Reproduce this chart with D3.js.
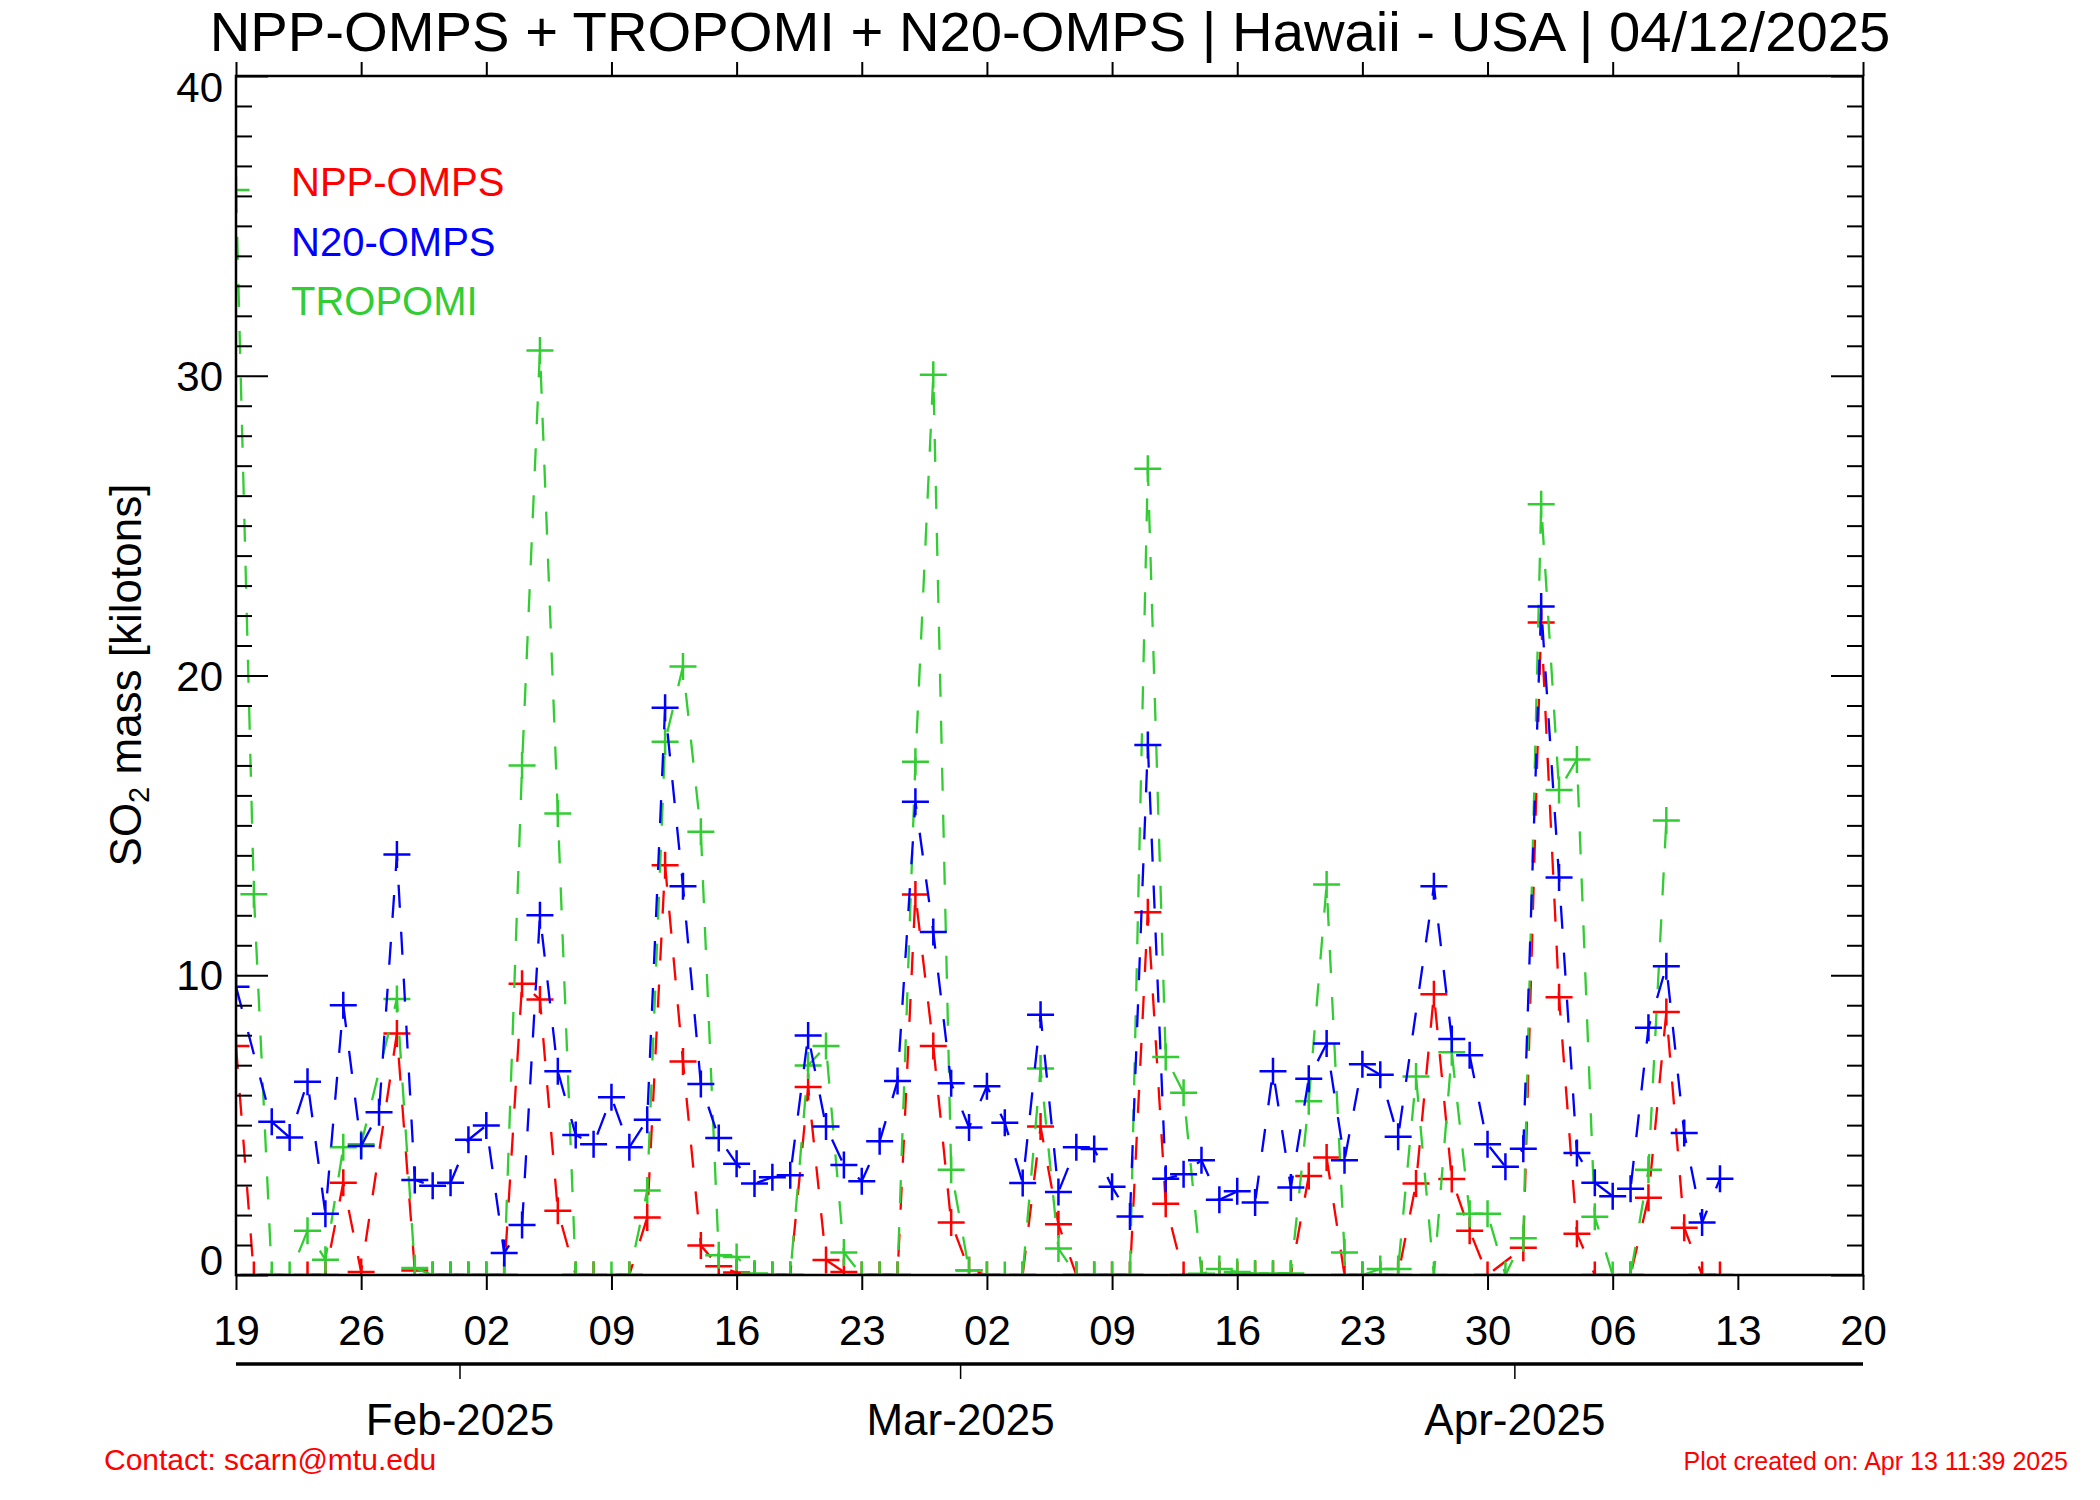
<!DOCTYPE html>
<html><head><meta charset="utf-8">
<script src="https://cdn.jsdelivr.net/npm/d3@7"></script>
<style>
body{margin:0;background:#fff}
text{font-family:"Liberation Sans",Arial,Helvetica,sans-serif}
</style>
</head><body>
<svg id="chart" width="2100" height="1500"></svg>
<script>
// ---------------- data ----------------
const firstDay = [2025, 0, 19];           // Jan 19 2025, one value per day after that
const titleText = "NPP-OMPS + TROPOMI + N20-OMPS | Hawaii - USA | 04/12/2025";
const yLabel = "SO", yLabelSub = "2", yLabelRest = " mass [kilotons]";
const weekTickLabels = ["19","26","02","09","16","23","02","09","16","23","30","06","13","20"];
const monthTickLabels = ["Feb-2025","Mar-2025","Apr-2025"];
const yTickValues = [0,10,20,30,40];
const seriesNames = ["NPP-OMPS","N20-OMPS","TROPOMI"];

const nppOmps = [7.64,0,null,null,0,0,3.08,0.1,null,8.06,
  0.15,0,0,0,0,0,9.72,9.19,2.14,0,
  0,null,0,1.92,13.67,7.12,0.98,0.29,0.08,0,
  0,0,6.27,0.5,0.1,0,0,0,12.69,7.64,
  1.75,0.16,0,null,0,4.95,1.69,0,0,0,
  0,12.1,2.38,0,0,0,0,0,0,0,
  3.30,3.92,0,0,0,0,3.05,9.37,3.20,1.48,
  0,null,0.91,21.77,9.27,1.38,0,null,0,2.58,
  8.77,1.58,0,0];

const n20Omps = [9.62,null,5.11,4.59,6.45,2.04,9.0,4.30,5.43,14.03,
  3.17,2.98,3.08,4.51,4.99,0.73,1.67,12.0,6.8,4.67,
  4.36,5.93,4.26,5.18,18.92,12.97,6.37,4.57,3.71,3.05,
  3.26,3.33,7.99,4.95,3.67,3.13,4.46,6.47,15.79,11.44,
  6.40,4.92,6.30,5.08,3.07,8.68,2.77,4.26,4.20,2.94,
  1.95,17.68,3.21,3.36,3.83,2.51,2.79,2.42,6.80,2.92,
  6.55,7.72,3.83,7.03,6.68,4.61,null,12.97,7.87,7.33,
  4.36,3.61,4.21,22.3,13.26,4.07,3.08,2.63,2.88,8.25,
  10.3,4.74,1.75,3.21];

const tropomi = [36.2,12.7,0,0,1.48,0.51,4.26,4.36,null,9.21,
  0.23,0,0,0,0,0,17.0,30.84,15.4,0,
  0,0,0,2.82,17.79,20.3,14.79,0.66,0.6,0.05,
  0,0,6.99,7.64,0.75,0,0,0,17.12,30.03,
  3.51,0.16,0,0,0,6.89,0.88,0,0,0,
  0,26.9,7.27,6.08,0.04,0.2,0.1,0.05,0.05,0.05,
  5.80,13.03,0.75,0,0.2,0.2,6.62,0,7.43,2.04,
  2.04,0,1.23,25.71,16.18,17.2,1.94,0,0,3.51,
  15.16];

// ---------------- layout ----------------
const W = 2100, H = 1500;
const L = 236, R = 1863, T = 76, B = 1275;
const colors = {npp:"#ff0000", n20:"#0000ff", tro:"#32cd32"};

const svg = d3.select("#chart");
svg.append("rect").attr("width",W).attr("height",H).attr("fill","#fff");

const t0 = Date.UTC(firstDay[0], firstDay[1], firstDay[2], 12);
const dayMs = 86400000;
const x = d3.scaleUtc().domain([new Date(t0), new Date(t0 + 91*dayMs)]).range([L, R]);
const y = d3.scaleLinear().domain([0, 40]).range([B, T]);

const weekTicks = weekTickLabels.map((_, i) => new Date(t0 + i*7*dayMs));
const monthTicks = d3.utcMonth.range(new Date(t0), new Date(t0 + 91*dayMs));

svg.append("defs").append("clipPath").attr("id","plotclip")
  .append("rect").attr("x",L).attr("y",T).attr("width",R-L).attr("height",B-T);

// series
function toPoints(arr){
  return arr.map((v,i)=>({d:new Date(t0 + i*dayMs), v})).filter(p=>p.v!==null);
}
const line = d3.line().x(p=>x(p.d)).y(p=>y(p.v));
const plot = svg.append("g").attr("clip-path","url(#plotclip)");
const series = [
  {data:nppOmps, color:colors.npp},
  {data:tropomi, color:colors.tro},
  {data:n20Omps, color:colors.n20}
];
series.forEach(s=>{
  const pts = toPoints(s.data);
  plot.append("path").datum(pts).attr("d",line)
    .attr("fill","none").attr("stroke",s.color).attr("stroke-width",2.3)
    .attr("stroke-dasharray","23,24");
  plot.selectAll(null).data(pts).enter().append("path")
    .attr("transform",p=>`translate(${x(p.d)},${y(p.v)})`)
    .attr("d","M-13.5,0H13.5M0,-13.5V13.5")
    .attr("stroke",s.color).attr("stroke-width",2.5).attr("fill","none");
});

// frame
svg.append("rect").attr("x",L).attr("y",T).attr("width",R-L).attr("height",B-T)
  .attr("fill","none").attr("stroke","#000").attr("stroke-width",2.5);

// top / bottom weekly ticks (outward)
const axBottom = d3.axisBottom(x).tickValues(weekTicks).tickSize(15)
  .tickFormat((d,i)=>weekTickLabels[i]).tickPadding(25);
const gb = svg.append("g").attr("transform",`translate(0,${B})`).call(axBottom);
gb.select(".domain").remove();
gb.selectAll("line").attr("stroke-width",2);
gb.selectAll("text").attr("font-size",42).attr("fill","#000")
  .attr("font-family",'"Liberation Sans",Arial,sans-serif');

const axTop = d3.axisTop(x).tickValues(weekTicks).tickSize(14).tickFormat("");
const gt = svg.append("g").attr("transform",`translate(0,${T})`).call(axTop);
gt.select(".domain").remove();
gt.selectAll("line").attr("stroke-width",2);

// y ticks inward, minor every 1, major every 10
const minorY = d3.range(0, 41, 1);
const axLeft = d3.axisRight(y).tickValues(minorY).tickSize(16).tickFormat("");
const gl = svg.append("g").attr("transform",`translate(${L},0)`).call(axLeft);
gl.select(".domain").remove();
gl.selectAll(".tick line").attr("stroke-width",2).attr("x2",d=>d%10===0?32:16);
const axRight = d3.axisLeft(y).tickValues(minorY).tickSize(16).tickFormat("");
const gr = svg.append("g").attr("transform",`translate(${R},0)`).call(axRight);
gr.select(".domain").remove();
gr.selectAll(".tick line").attr("stroke-width",2).attr("x2",d=>d%10===0?-32:-16);

// y labels
const yLab = svg.append("g");
yLab.selectAll("text").data(yTickValues).enter().append("text")
  .attr("x", 223).attr("y", d=> y(d) + 15 + (d===0?-15:0) + (d===40?11:0))
  .attr("text-anchor","end").attr("font-size",42).text(d=>d);

// month axis
const axMonth = d3.axisBottom(x).tickValues(monthTicks).tickSize(15)
  .tickFormat((d,i)=>monthTickLabels[i]).tickPadding(25);
const gm = svg.append("g").attr("transform",`translate(0,1364)`).call(axMonth);
gm.select(".domain").attr("d",`M${L},0H${R}`).attr("stroke-width",3.5);
gm.selectAll(".tick line").attr("stroke-width",1.5);
gm.selectAll("text").attr("font-size",44).attr("fill","#000")
  .attr("font-family",'"Liberation Sans",Arial,sans-serif');

// title
const title = svg.append("text").attr("x",1050).attr("y",51)
  .attr("text-anchor","middle").attr("font-size",53).text(titleText);
const tl = title.node().getComputedTextLength();
title.attr("font-size", 53*1681/tl);

// y axis title
const yt = svg.append("text").attr("transform","translate(141,675) rotate(-90)")
  .attr("text-anchor","middle").attr("font-size",44);
yt.append("tspan").text(yLabel);
yt.append("tspan").attr("font-size",29).attr("dy",8).text(yLabelSub);
yt.append("tspan").attr("dy",-8).text(yLabelRest);

// legend
const legColors = [colors.npp, colors.n20, colors.tro];
svg.selectAll(".leg").data(seriesNames).enter().append("text")
  .attr("x",291).attr("y",(d,i)=>196 + i*59.7).attr("font-size",40)
  .attr("fill",(d,i)=>legColors[i]).text(d=>d);

// footer
svg.append("text").attr("x",104).attr("y",1470).attr("font-size",30)
  .attr("fill","#ff0000").text("Contact: scarn@mtu.edu");
svg.append("text").attr("x",2068).attr("y",1470).attr("font-size",25)
  .attr("text-anchor","end").attr("fill","#ff0000").text("Plot created on: Apr 13 11:39 2025");
</script>
</body></html>
